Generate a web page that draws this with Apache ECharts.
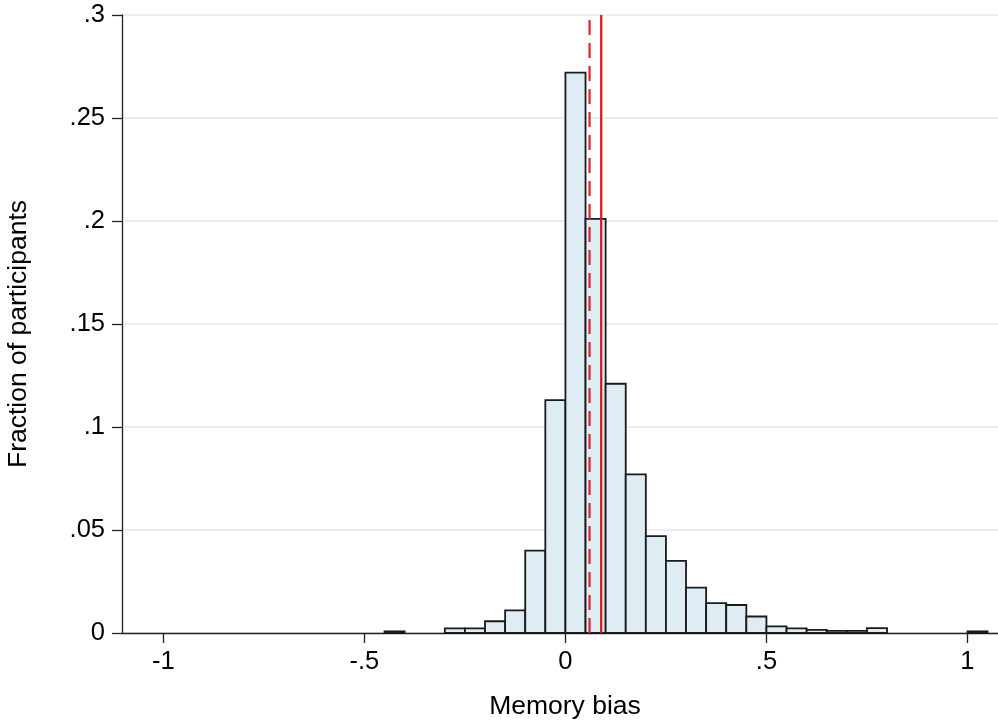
<!DOCTYPE html>
<html>
<head>
<meta charset="utf-8">
<script src="https://cdn.jsdelivr.net/npm/echarts@6/dist/echarts.min.js"></script>
<style>
html,body{margin:0;padding:0;background:#fff;}
#chart{width:998px;height:725px;}
</style>
</head>
<body>
<div id="chart"></div>
<script>
// Histogram bins (left edges, width 0.05) and fractions
var binStarts = [-0.45, -0.30, -0.25, -0.20, -0.15, -0.10, -0.05, 0.00, 0.05, 0.10, 0.15, 0.20, 0.25, 0.30, 0.35, 0.40, 0.45, 0.50, 0.55, 0.60, 0.65, 0.70, 0.75, 1.00];
var binHeights = [0.0008, 0.0022, 0.0022, 0.0057, 0.011, 0.040, 0.113, 0.272, 0.201, 0.121, 0.077, 0.047, 0.035, 0.022, 0.0145, 0.0136, 0.008, 0.0032, 0.0022, 0.0015, 0.001, 0.001, 0.0024, 0.0008];
var binWidth = 0.05;
// Reference lines (median dashed, mean solid)
var medianLine = 0.06;
var meanLine = 0.089;
var xTicks = [-1, -0.5, 0, 0.5, 1];
var yTicks = [0, 0.05, 0.1, 0.15, 0.2, 0.25, 0.3];

function fmt(v) {
  var n = parseFloat(Number(v).toFixed(2));
  if (n === 0) return '0';
  var s = String(n);
  return s.replace(/^(-?)0\./, '$1.');
}

var font = "'Liberation Sans', Arial, Helvetica, sans-serif";
var chart = echarts.init(document.getElementById('chart'), null, {renderer: 'canvas'});
var data = binStarts.map(function (s, i) { return [s, binHeights[i]]; });

chart.setOption({
  backgroundColor: '#ffffff',
  animation: false,
  grid: {left: 122, right: 0, top: 15, bottom: 92, containLabel: false, outerBoundsMode: 'none'},
  xAxis: {
    type: 'value',
    min: -1.103, max: 1.076,
    name: 'Memory bias',
    nameLocation: 'middle',
    nameGap: 60,
    nameTextStyle: {fontFamily: font, fontSize: 26.5, color: '#000', padding: [0, 0, 0, 10]},
    axisLine: {show: true, onZero: false, lineStyle: {color: '#222', width: 1.3}},
    axisTick: {show: true, length: 10, inside: false, customValues: xTicks, lineStyle: {color: '#222', width: 1.3}},
    axisLabel: {show: true, margin: 16, customValues: xTicks, fontFamily: font, fontSize: 25.5, color: '#000', formatter: fmt},
    splitLine: {show: false}
  },
  yAxis: {
    type: 'value',
    min: 0, max: 0.3, interval: 0.05,
    name: 'Fraction of participants',
    nameLocation: 'middle',
    nameGap: 90,
    nameTextStyle: {fontFamily: font, fontSize: 26.5, color: '#000', padding: [0, 20, 0, 0]},
    axisLine: {show: true, onZero: false, lineStyle: {color: '#222', width: 1.3}},
    axisTick: {show: true, length: 10, inside: false, lineStyle: {color: '#222', width: 1.3}},
    axisLabel: {show: true, margin: 17, fontFamily: font, fontSize: 25.5, color: '#000', formatter: fmt},
    splitLine: {show: true, lineStyle: {color: '#e8eff3', width: 2}}
  },
  series: [
    {
      type: 'custom',
      data: data,
      renderItem: function (params, api) {
        var x0 = api.value(0), h = api.value(1);
        var p1 = api.coord([x0, h]);
        var p2 = api.coord([x0 + binWidth, 0]);
        return {
          type: 'rect',
          shape: {x: p1[0], y: p1[1], width: p2[0] - p1[0], height: p2[1] - p1[1]},
          style: {fill: '#deedf4', stroke: '#1a1a1a', lineWidth: 1.8}
        };
      },
      z: 2
    },
    {
      type: 'line',
      data: [[medianLine, 0], [medianLine, 0.3]],
      symbol: 'none',
      lineStyle: {color: '#dd2330', width: 2.2, type: [15, 8]},
      z: 3
    },
    {
      type: 'line',
      data: [[meanLine, 0], [meanLine, 0.3]],
      symbol: 'none',
      lineStyle: {color: '#d9131b', width: 2.2, type: 'solid'},
      z: 3
    }
  ]
});
</script>
</body>
</html>
